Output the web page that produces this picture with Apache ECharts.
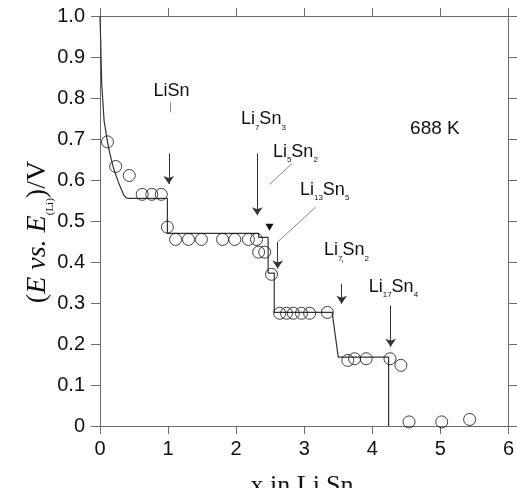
<!DOCTYPE html>
<html>
<head>
<meta charset="utf-8">
<script src="https://cdn.jsdelivr.net/npm/echarts@6/dist/echarts.min.js"></script>
<style>
html,body{margin:0;padding:0;background:#fff;}
#chart{width:517px;height:488px;}
</style>
</head>
<body>
<div id="chart"></div>
<script>
// ---- data ----
const xTicks = [0, 1, 2, 3, 4, 5, 6];
const yTickLabels = ['0', '0.1', '0.2', '0.3', '0.4', '0.5', '0.6', '0.7', '0.8', '0.9', '1.0'];

// measured points (open circles): [x, E]
const measuredX = [0.11, 0.23, 0.43, 0.62, 0.76, 0.90, 0.99, 1.11, 1.30, 1.49, 1.80, 1.98, 2.18, 2.30,
  2.33, 2.42, 2.52, 2.64, 2.74, 2.84, 2.96, 3.08, 3.34, 3.64, 3.74, 3.91, 4.26, 4.42, 4.54, 5.02, 5.43];
const measuredE = [0.693, 0.633, 0.611, 0.565, 0.565, 0.565, 0.485, 0.455, 0.455, 0.455, 0.455, 0.455, 0.455, 0.455,
  0.424, 0.424, 0.370, 0.275, 0.275, 0.275, 0.275, 0.275, 0.277, 0.160, 0.164, 0.164, 0.164, 0.148, 0.010, 0.010, 0.016];

// calculated curve (solid line)
const curveX = [0, 0.005, 0.01, 0.025, 0.06, 0.11, 0.14, 0.17, 0.20, 0.245, 0.28, 0.32, 0.35, 0.38, 0.42,
  0.99, 0.99, 2.33, 2.33, 2.47, 2.47, 2.56, 2.56, 3.41, 3.50, 4.24, 4.24];
const curveE = [1.0, 0.97, 0.94, 0.835, 0.745, 0.693, 0.668, 0.648, 0.628, 0.607, 0.590, 0.575, 0.563, 0.557, 0.555,
  0.555, 0.470, 0.470, 0.460, 0.460, 0.373, 0.373, 0.277, 0.277, 0.168, 0.168, 0.0];

// phase annotations: label text (rich), label position, arrow segments
const phaseLabels = ['LiSn', 'Li{s|7}Sn{s|3}', 'Li{s|5}Sn{s|2}', 'Li{s|13}Sn{s|5}', 'Li{s|7}Sn{s|2}', 'Li{s|17}Sn{s|4}', '688 K'];
const phaseLabelX = [1.05, 2.40, 2.87, 3.30, 3.62, 4.31, 4.92];
const phaseLabelE = [0.818, 0.748, 0.668, 0.575, 0.428, 0.339, 0.725];
// arrows: [x1, E1, x2, E2]
const arrowSegs = [
  [1.01, 0.665, 1.01, 0.590],
  [2.31, 0.665, 2.31, 0.514],
  [2.61, 0.449, 2.61, 0.384],
  [3.55, 0.347, 3.55, 0.298],
  [4.27, 0.294, 4.27, 0.193]
];
// plain leader lines: [x1, E1, x2, E2]
const leaderSegs = [
  [1.03, 0.790, 1.03, 0.765],
  [2.82, 0.640, 2.49, 0.589],
  [3.17, 0.534, 2.61, 0.449],
  [3.56, 0.405, 3.56, 0.397]
];
const triMarkX = [2.49];
const triMarkE = [0.485];

// ---- build chart ----
const chart = echarts.init(document.getElementById('chart'), null, {renderer: 'canvas'});
const AX = '#6a6a6a';
const SANS = '"Liberation Sans", Arial, sans-serif';
const SERIF = '"Liberation Serif", "Times New Roman", serif';

const measured = measuredX.map((x, i) => [x, measuredE[i]]);
const curve = curveX.map((x, i) => [x, curveE[i]]);

const subRich = {
  s: {fontSize: 8, fontFamily: SANS, color: '#111', verticalAlign: 'bottom', lineHeight: 8, padding: [0, 0, -3, 0]}
};

const labelPoints = phaseLabels.map((t, i) => ({
  coord: [phaseLabelX[i], phaseLabelE[i]],
  symbol: 'circle', symbolSize: 1,
  itemStyle: {color: 'transparent'},
  label: {
    show: true, position: 'inside', formatter: t,
    fontSize: t === '688 K' ? 19 : 18, fontFamily: SANS, color: '#111',
    rich: subRich
  }
}));
triMarkX.forEach((x, i) => labelPoints.push({
  coord: [x, triMarkE[i]], symbol: 'triangle', symbolRotate: 180, symbolSize: [8, 7],
  itemStyle: {color: '#111'}, label: {show: false}
}));

const axisCommonX = {
  type: 'value', min: 0, max: 6, interval: 1,
  axisLine: {show: true, onZero: false, lineStyle: {color: AX, width: 1}},
  axisTick: {show: true, length: 8, lineStyle: {color: AX}},
  splitLine: {show: false}
};
const axisCommonY = {
  type: 'value', min: 0, max: 1, interval: 0.1,
  axisLine: {show: true, onZero: false, lineStyle: {color: AX, width: 1}},
  axisTick: {show: true, length: 9, lineStyle: {color: AX}},
  splitLine: {show: false}
};

const option = {
  animation: false,
  backgroundColor: '#fff',
  grid: {left: 100, top: 16, right: 8.3, bottom: 62, containLabel: false},
  xAxis: [
    Object.assign({}, axisCommonX, {
      position: 'bottom',
      axisLabel: {show: true, margin: 13, fontSize: 20, fontFamily: SANS, color: '#111',
        formatter: v => (xTicks.includes(v) ? String(v) : '')}
    }),
    Object.assign({}, axisCommonX, {position: 'top', axisLabel: {show: false}})
  ],
  yAxis: [
    Object.assign({}, axisCommonY, {
      position: 'left',
      axisLabel: {show: true, margin: 15, fontSize: 20, fontFamily: SANS, color: '#111',
        formatter: v => yTickLabels[Math.round(v * 10)]}
    }),
    Object.assign({}, axisCommonY, {position: 'right', axisLabel: {show: false}})
  ],
  series: [
    {
      type: 'line', data: curve, showSymbol: false, symbol: 'none',
      lineStyle: {color: '#333', width: 1.2}, silent: true, z: 2
    },
    {
      type: 'scatter', data: measured, symbol: 'circle', symbolSize: 12,
      itemStyle: {color: 'transparent', borderColor: '#111', borderWidth: 1}, z: 3
    },
    {
      type: 'line', data: [], silent: true,
      markLine: {
        silent: true, animation: false, symbol: ['none', 'arrow'], symbolSize: 8, precision: 4,
        label: {show: false},
        lineStyle: {color: '#333', width: 1, type: 'solid'},
        data: arrowSegs.map(s => [{coord: [s[0], s[1]]}, {coord: [s[2], s[3]]}])
      },
      markPoint: {silent: true, animation: false, data: labelPoints}
    },
    {
      type: 'line', data: [], silent: true,
      markLine: {
        silent: true, animation: false, symbol: ['none', 'none'], precision: 4,
        label: {show: false},
        lineStyle: {color: '#666', width: 0.8, type: 'solid'},
        data: leaderSegs.map(s => [{coord: [s[0], s[1]]}, {coord: [s[2], s[3]]}])
      }
    }
  ],
  graphic: [
    {
      type: 'text', x: 38, y: 232, rotation: Math.PI / 2,
      style: {
        text: '({i|E} {i|vs.} {i|E}{s|(Li)})/V',
        fontSize: 28, fontFamily: SERIF, fill: '#111',
        align: 'center', verticalAlign: 'middle',
        rich: {
          i: {fontSize: 28, fontFamily: SERIF, fontStyle: 'italic', fill: '#111'},
          s: {fontSize: 11, fontFamily: SERIF, fill: '#111', verticalAlign: 'bottom', lineHeight: 11, padding: [0, 0, -4, 0]}
        }
      }
    },
    {
      type: 'text', x: 302, y: 486,
      style: {
        text: 'x in Li{s|x}Sn',
        fontSize: 26, fontFamily: SERIF, fill: '#111',
        align: 'center', verticalAlign: 'middle',
        rich: {
          s: {fontSize: 12, fontFamily: SERIF, fill: '#111', verticalAlign: 'bottom', lineHeight: 12, padding: [0, 0, -4, 0]}
        }
      }
    }
  ]
};
chart.setOption(option);
</script>
</body>
</html>
